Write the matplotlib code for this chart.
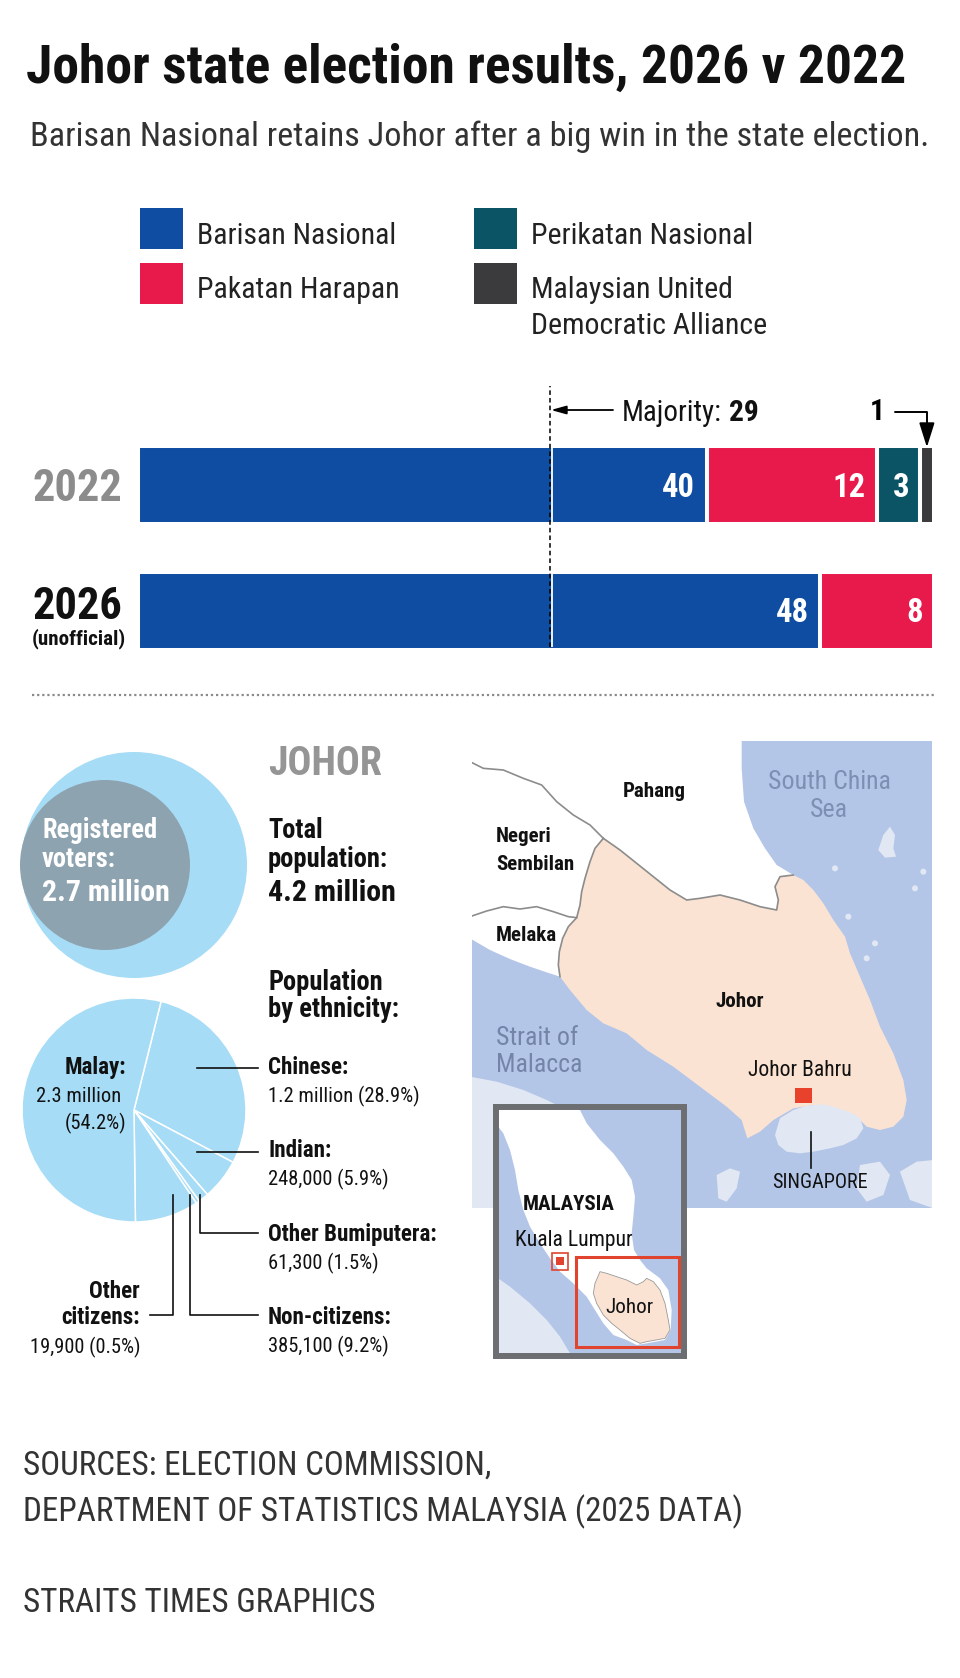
import matplotlib
matplotlib.use("Agg")
import matplotlib.pyplot as plt
from matplotlib.patches import Rectangle, Circle, Polygon
from matplotlib.font_manager import FontProperties
from matplotlib.textpath import TextToPath

W, H = 960, 1678
FAMILY = ["Roboto Condensed", "DejaVu Sans"]
plt.rcParams["font.family"] = FAMILY

# ---- election data ----
parties = ["Barisan Nasional", "Pakatan Harapan", "Perikatan Nasional",
           "Malaysian United\nDemocratic Alliance"]
party_colors = ["#0e4da1", "#e8194b", "#0b5466", "#3b3b3d"]
years = ["2022", "2026"]
seats_2022 = [40, 12, 3, 1]
seats_2026 = [48, 8, 0, 0]
total_seats = 56
majority = 29

# ---- population data ----
total_pop = "4.2 million"
voters = "2.7 million"
groups = ["Chinese", "Indian", "Other Bumiputera", "Other citizens", "Non-citizens", "Malay"]
group_pct = [28.9, 5.9, 1.5, 0.5, 9.2, 54.2]
group_count = ["1.2 million", "248,000", "61,300", "19,900", "385,100", "2.3 million"]

# ---- map outlines (map pixel units) ----
johor = [(400, 310), (450, 345), (500, 385), (550, 425), (600, 465), (650, 495), (690, 490),
         (750, 480), (810, 495), (870, 515), (920, 525), (925, 495), (915, 455), (930, 425),
         (970, 420), (1000, 435), (1030, 465), (1060, 505), (1090, 555), (1125, 605),
         (1140, 655), (1170, 725), (1200, 795), (1230, 875), (1270, 955), (1300, 1035),
         (1310, 1095), (1300, 1145), (1270, 1175), (1230, 1185), (1190, 1175), (1170, 1155),
         (1140, 1135), (1100, 1125), (1030, 1110), (970, 1120), (910, 1155), (870, 1190),
         (832, 1210), (815, 1155), (770, 1115), (690, 1055), (610, 995), (530, 945), (470, 895),
         (400, 865), (350, 825), (300, 765), (270, 725), (265, 690), (268, 650), (278, 610),
         (295, 575), (320, 548), (330, 510), (335, 470), (345, 430), (360, 380), (375, 340)]
north_coast = [(0, 0), (815, 0), (815, 100), (822, 200), (850, 280), (885, 340), (920, 390)]
melaka_coast = [(230, 712), (180, 695), (120, 672), (60, 645), (0, 610)]
border_pahang_ns = [(0, 80), (40, 100), (100, 105), (160, 130), (215, 150), (260, 200),
                    (310, 240), (360, 270), (400, 310)]
border_ns_melaka = [(0, 545), (50, 528), (100, 515), (150, 522), (200, 515), (250, 530),
                    (295, 545), (320, 548)]
sumatra = [(0, 1025), (80, 1040), (160, 1065), (230, 1095), (280, 1120), (300, 1150),
           (300, 1420), (0, 1420)]
singapore = [(930, 1150), (970, 1125), (1010, 1112), (1060, 1108), (1100, 1118), (1140, 1132),
             (1170, 1148), (1180, 1180), (1160, 1210), (1120, 1230), (1080, 1240), (1030, 1250),
             (990, 1255), (950, 1250), (925, 1230), (915, 1200)]
islands = [[(740, 1320), (780, 1300), (810, 1310), (800, 1360), (770, 1400), (745, 1390)],
           [(1170, 1290), (1230, 1280), (1260, 1320), (1240, 1380), (1190, 1400), (1160, 1360)],
           [(1290, 1310), (1340, 1280), (1390, 1275), (1390, 1420), (1320, 1395)],
           [(1240, 300), (1260, 275), (1275, 300), (1270, 340), (1278, 365), (1245, 368), (1225, 345)]]
islets = [(1095, 400), (1335, 460), (1135, 545), (1215, 625), (1190, 670), (1360, 410)]

# ---- inset outlines (inset pixel units) ----
peninsula = [(40, 40), (290, 40), (320, 100), (360, 150), (400, 190), (430, 230), (455, 270),
             (465, 320), (460, 380), (455, 430), (462, 480), (480, 510), (500, 535), (540, 565),
             (565, 600), (575, 660), (572, 720), (555, 750), (500, 760), (470, 765), (440, 750),
             (400, 735), (370, 700), (345, 660), (320, 620), (280, 580), (240, 545), (210, 505),
             (180, 460), (150, 410), (130, 360), (115, 300), (105, 240), (90, 180), (70, 130),
             (55, 110), (40, 105)]
inset_johor = [(360, 545), (380, 550), (410, 560), (440, 570), (470, 585), (490, 575), (500, 565),
               (520, 575), (540, 600), (555, 640), (565, 690), (570, 720), (555, 745), (500, 755),
               (480, 760), (450, 745), (420, 720), (395, 700), (370, 675), (350, 640), (340, 610),
               (345, 580)]
inset_sumatra = [(40, 555), (90, 590), (150, 640), (200, 690), (240, 740), (270, 790),
                 (280, 810), (40, 810)]

BLUE_SEA = "#b4c6e8"
PINK = "#fbe3d3"
PALE = "#e1e8f3"
LIGHT = "#a6dcf6"
INK = "#111111"

ttp = TextToPath()


def fit(s, width_px, weight="normal"):
    # font size (pt) that makes s about width_px wide at 100 dpi
    prop = FontProperties(family=FAMILY, weight=weight, size=10)
    w, h, d = ttp.get_text_width_height_descent(s, prop, ismath=False)
    return 10 * width_px / (w * 100 / 72)


fig = plt.figure(figsize=(W / 100, H / 100), dpi=100)
fig.patch.set_facecolor("white")


def px_axes(x0, y0, x1, y1):
    return fig.add_axes([x0 / W, 1 - y1 / H, (x1 - x0) / W, (y1 - y0) / H])


# ---------------- stacked bars ----------------
bx = px_axes(138, 386, 934, 650)
row_px = 125.5
bx.set_xlim(0, total_seats)
bx.set_ylim((650 - 485) / row_px, (386 - 485) / row_px)
bar_h = 78 / row_px
seat_px = 796 / total_seats
val_size = fit("40", 33, "bold")
note_size = fit("29", 30, "bold")
for yi, seats in enumerate([seats_2022, seats_2026]):
    left = 0
    for pi, s in enumerate(seats):
        if s == 0:
            continue
        bx.barh(yi, s, left=left, height=bar_h, color=party_colors[pi],
                edgecolor="white", linewidth=2.9)
        if s * seat_px > 60:
            bx.text(left + s - 0.8, yi + 0.02, str(s), ha="right", va="center",
                    color="white", fontsize=val_size, fontweight="bold")
        elif s > 1:
            bx.text(left + s / 2 + 0.2, yi + 0.02, str(s), ha="center", va="center",
                    color="white", fontsize=val_size, fontweight="bold")
        else:
            bx.annotate(str(s), xy=(left + s / 2, yi - bar_h / 2 + 0.01),
                        xytext=((885 - 138) / seat_px, (412 - 485) / row_px),
                        ha="right", va="center", fontsize=note_size, fontweight="bold",
                        annotation_clip=False,
                        arrowprops=dict(arrowstyle="-|>,head_length=0.7,head_width=0.22",
                                        connectionstyle="angle,angleA=0,angleB=90,rad=0",
                                        color="black", lw=1.4, shrinkA=5, shrinkB=0))
        left += s

bot = 1 + bar_h / 2 - 0.02
bx.vlines(majority + 0.12, -bar_h / 2, bot, color="white", lw=1.3, zorder=4)
bx.vlines(majority, bot, (386 - 485) / row_px, color="black", lw=1.1,
          linestyles=(0, (3, 2)), zorder=5)
y_maj = (410 - 485) / row_px
bx.annotate("", xy=(majority + 0.05, y_maj), xytext=((613 - 138) / seat_px, y_maj),
            arrowprops=dict(arrowstyle="-|>,head_length=0.9,head_width=0.25",
                            color="black", lw=1.3, shrinkA=0, shrinkB=0))
t_maj = bx.text((622 - 138) / seat_px, (421 - 485) / row_px, "Majority:",
                ha="left", va="baseline", fontsize=fit("Majority:", 100), color=INK)
bx.annotate(str(majority), xy=(1, 0), xycoords=t_maj, xytext=(5, 0),
            textcoords="offset points", ha="left", va="bottom",
            fontsize=note_size, fontweight="bold", color=INK)
bx.axis("off")

# ---------------- pie ----------------
pa = px_axes(22, 998, 246, 1222)
pa.pie(group_pct, colors=[LIGHT] * len(group_pct), startangle=76, counterclock=False,
       wedgeprops=dict(edgecolor="white", linewidth=1.1))
pa.set_xlim(-1, 1)
pa.set_ylim(-1, 1)
pa.axis("off")

# ---------------- map ----------------
ma = px_axes(472, 741, 932, 1208)
ma.set_xlim(6, 1386)
ma.set_ylim(1419, 18)
ma.set_facecolor(BLUE_SEA)
land = north_coast + johor[14::-1] + johor[:-12:-1] + melaka_coast
ma.add_patch(Polygon(land, closed=True, fc="white", ec="none"))
ma.add_patch(Polygon(sumatra, closed=True, fc=PALE, ec="none"))
ma.add_patch(Polygon(johor, closed=True, fc=PINK, ec="none"))
ma.add_patch(Polygon(singapore, closed=True, fc=PALE, ec="none"))
for isl in islands:
    ma.add_patch(Polygon(isl, closed=True, fc=PALE, ec="none"))
for (ix, iy) in islets:
    ma.add_patch(Circle((ix, iy), 9, fc=PALE, ec="none"))
for line in [border_pahang_ns, border_ns_melaka, johor[:15], johor[-11:] + johor[:1]]:
    xs, ys = zip(*line)
    ma.plot(xs, ys, color="#8c8c8c", lw=1.2)
ma.add_patch(Rectangle((975, 1060), 50, 45, fc="#e8412c", ec="none", zorder=5))
ma.plot([1022, 1022], [1190, 1300], color=INK, lw=1.2)
ma.set_xticks([])
ma.set_yticks([])
for sp in ma.spines.values():
    sp.set_visible(False)

# ---------------- inset ----------------
ia = px_axes(496, 1107, 684, 1356)
ia.set_xlim(48, 612)
ia.set_ylim(798, 51)
ia.set_facecolor(BLUE_SEA)
ia.add_patch(Polygon(inset_sumatra, closed=True, fc=PALE, ec="none"))
ia.add_patch(Polygon(peninsula, closed=True, fc="white", ec="none"))
ia.add_patch(Polygon(inset_johor, closed=True, fc=PINK, ec="#9a9a9a", lw=0.6))
ia.add_patch(Rectangle((288, 500), 310, 270, fc="none", ec="#e0442f", lw=2.2))
ia.add_patch(Rectangle((215, 488), 50, 52, fc="none", ec="#e0442f", lw=1.2))
ia.add_patch(Rectangle((229, 501), 22, 24, fc="#e0442f", ec="none"))
ia.set_xticks([])
ia.set_yticks([])
for sp in ia.spines.values():
    sp.set_color("#6d6e71")
    sp.set_linewidth(4.3)

# ---------------- overlay (pixel coordinates) ----------------
ov = fig.add_axes([0, 0, 1, 1])
ov.set_xlim(0, W)
ov.set_ylim(H, 0)
ov.axis("off")


def put(x, y, s, size, bold=False, color=INK, ha="left"):
    ov.text(x, y, s, fontsize=size, fontweight="bold" if bold else "normal",
            color=color, ha=ha, va="baseline")


title = "Johor state election results, 2026 v 2022"
sub = "Barisan Nasional retains Johor after a big win in the state election."
put(26, 83, title, fit(title, 880, "bold"), bold=True)
put(30, 146, sub, fit(sub, 899), color="#333333")

# legend
leg_size = fit("Barisan Nasional", 200)
for i, (name, col) in enumerate(zip(parties, party_colors)):
    cx = 140 + (i // 2) * 334
    cy = 208 + (i % 2) * 55
    ov.add_patch(Rectangle((cx, cy), 43, 41, fc=col, ec="none"))
    for li, part in enumerate(name.split("\n")):
        put(cx + 57, cy + 35.5 + li * 36, part, leg_size, color="#222222")

# year labels
yr_size = fit("2022", 90, "bold")
put(32, 501, years[0], yr_size, bold=True, color="#8c8c8c")
put(32, 619, years[1], yr_size, bold=True)
put(32, 644, "(unofficial)", fit("(unofficial)", 94, "bold"), bold=True)

# dotted separator
ov.plot([32, 936], [695, 695], color="#8a8a8a", lw=1.6, linestyle=(0, (1, 1.3)))

# population circles
ov.add_patch(Circle((134, 865), 113, fc=LIGHT, ec="none"))
ov.add_patch(Circle((105, 865), 85, fc="#8ea3b0", ec="none"))
lab_size = fit("Registered", 115, "bold")
big_size = fit(voters, 128, "bold")
put(42, 838, "Registered", lab_size, bold=True, color="white")
put(42, 867, "voters:", lab_size, bold=True, color="white")
put(42, 901, voters, big_size, bold=True, color="white")

put(268, 775, "JOHOR", fit("JOHOR", 114, "bold"), bold=True, color="#959595")
put(268, 838, "Total", lab_size, bold=True)
put(268, 867, "population:", lab_size, bold=True)
put(268, 901, total_pop, big_size, bold=True)
put(268, 990, "Population", lab_size, bold=True)
put(268, 1017, "by ethnicity:", lab_size, bold=True)

# pie labels and leaders
pb_size = fit("Other Bumiputera:", 169, "bold")
pr_size = fit("1.2 million (28.9%)", 151)
right_labels = {"Chinese": 1074, "Indian": 1157, "Other Bumiputera": 1241, "Non-citizens": 1324}
leaders = {"Chinese": [(197, 1068), (258, 1068)],
           "Indian": [(197, 1152), (258, 1152)],
           "Other Bumiputera": [(200, 1195), (200, 1233), (258, 1233)],
           "Non-citizens": [(190, 1195), (190, 1315), (258, 1315)],
           "Other citizens": [(173, 1195), (173, 1315), (150, 1315)]}
for g, pct, cnt in zip(groups, group_pct, group_count):
    if g in leaders:
        xs, ys = zip(*leaders[g])
        ov.plot(xs, ys, color=INK, lw=1.2)
    if g in right_labels:
        yb = right_labels[g]
        put(268, yb, g + ":", pb_size, bold=True)
        put(268, yb + 28, f"{cnt} ({pct}%)", pr_size)
    elif g == "Malay":
        put(126, 1074, g + ":", pb_size, bold=True, ha="right")
        put(121, 1102, cnt, pr_size, ha="right")
        put(126, 1129, f"({pct}%)", pr_size, ha="right")
    else:
        first, second = g.split(" ")
        put(140, 1298, first, pb_size, bold=True, ha="right")
        put(140, 1324, second + ":", pb_size, bold=True, ha="right")
        put(140, 1353, f"{cnt} ({pct}%)", pr_size, ha="right")

# map labels
st_size = fit("Sembilan", 78, "bold")
sea_size = fit("Strait of", 82)
put(623, 797, "Pahang", st_size, bold=True)
put(496, 842, "Negeri", st_size, bold=True)
put(496, 870, "Sembilan", st_size, bold=True)
put(496, 941, "Melaka", st_size, bold=True)
put(740, 1007, "Johor", st_size, bold=True, ha="center")
put(496, 1045, "Strait of", sea_size, color="#7384a8")
put(496, 1072, "Malacca", sea_size, color="#7384a8")
put(829, 789, "South China", sea_size, color="#7d8fb2", ha="center")
put(829, 817, "Sea", sea_size, color="#7d8fb2", ha="center")
put(748, 1076, "Johor Bahru", fit("Johor Bahru", 104))
put(772, 1188, "SINGAPORE", fit("SINGAPORE", 96))
put(523, 1210, "MALAYSIA", fit("MALAYSIA", 92, "bold"), bold=True)
put(515, 1246, "Kuala Lumpur", fit("Kuala Lumpur", 118))
put(605, 1313, "Johor", fit("Johor", 48))

# sources
src2 = "DEPARTMENT OF STATISTICS MALAYSIA (2025 DATA)"
src_size = fit(src2, 719)
put(23, 1475, "SOURCES: ELECTION COMMISSION,", src_size, color="#333333")
put(23, 1521, src2, src_size, color="#333333")
put(23, 1612, "STRAITS TIMES GRAPHICS", src_size, color="#333333")

fig.savefig("out.png", dpi=100, facecolor="white")
